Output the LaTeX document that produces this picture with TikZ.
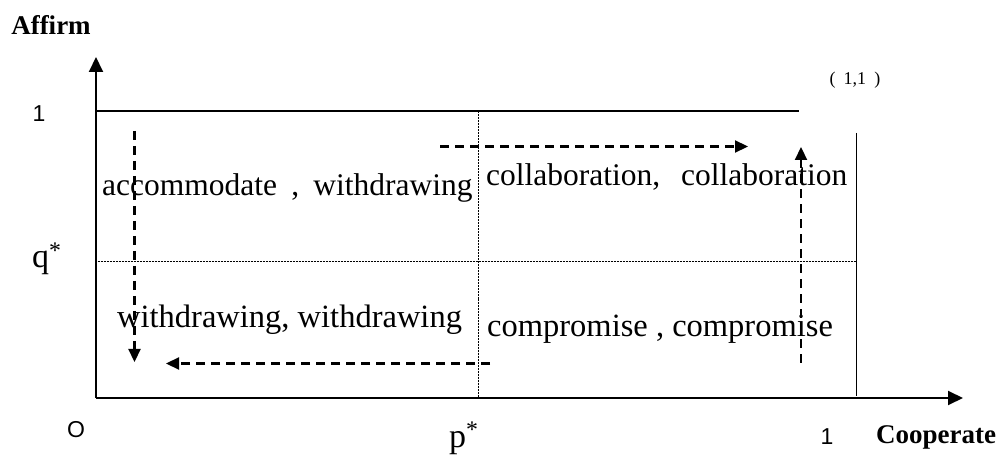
\documentclass[tikz,border=0pt]{standalone}
\usepackage{fontspec}
\setmainfont{Liberation Serif}
\newfontfamily\digitfont{Liberation Sans}
\usetikzlibrary{arrows.meta}

\tikzset{
  axisline/.style={line width=2pt, -{Triangle[length=15pt,width=14pt]}},
  frameline/.style={line width=1.3pt},
  gridline/.style={line width=1pt, dash pattern=on 1pt off 0.5pt},
  moveline/.style={line width=2.2pt, dash pattern=on 9pt off 6pt,
    -{Triangle[length=13pt,width=12pt]}},
  cell/.style={font=\fontsize{31.5}{36}\selectfont, inner sep=0pt, anchor=base west},
  lowcell/.style={font=\fontsize{32.5}{36}\selectfont, inner sep=0pt, anchor=base west},
  axistitle/.style={font=\fontsize{27}{30}\selectfont\bfseries, inner sep=0pt},
  ticklabel/.style={font=\digitfont\fontsize{23}{26}\selectfont, inner sep=0pt},
  starlabel/.style={font=\fontsize{34}{36}\selectfont, inner sep=0pt, anchor=base west}
}

\begin{document}
\begin{tikzpicture}[x=1pt, y=-1pt]
  \useasboundingbox (0,0) rectangle (997,457);

  % reference points of the strategy square
  \coordinate (O)  at (96,398);
  \coordinate (ytip) at (96,57);
  \coordinate (xtip) at (963,398);
  \coordinate (topL) at (96,111);
  \coordinate (topR) at (799,111);
  \coordinate (qL) at (96,261.5);
  \coordinate (qR) at (856.5,261.5);
  \coordinate (pT) at (478,111);
  \coordinate (pB) at (478,398);
  \coordinate (rT) at (856.5,133);
  \coordinate (rB) at (856.5,396);

  % axes
  \draw[axisline] (O) -- (ytip);
  \draw[axisline] (O) -- (xtip);

  % frame: p = 1 side, q = 1 side, thresholds p*, q*
  \draw[frameline] (topL) -- (topR);
  \draw[frameline] (rT) -- (rB);
  \draw[gridline] (qL) -- (qR);
  \draw[gridline] (pT) -- (pB);

  % dynamics arrows
  \coordinate (a1s) at (134.5,131);
  \coordinate (a1e) at (134.5,362);
  \coordinate (a2s) at (490,363.5);
  \coordinate (a2e) at (166,363.5);
  \coordinate (a3s) at (440,146.5);
  \coordinate (a3e) at (748,146.5);
  \coordinate (a4s) at (801,363);
  \coordinate (a4e) at (801,147);
  \draw[moveline] (a1s) -- (a1e);
  \draw[moveline] (a2s) -- (a2e);
  \draw[moveline] (a3s) -- (a3e);
  \draw[moveline] (a4s) -- (a4e);

  % quadrant outcomes
  \node[cell] (acc) at (102,196) {accommodate\hspace{0.2em} , \hspace{0.2em}withdrawing};
  \node[cell] (col) at (486,186) {collaboration,\hspace{0.41em} collaboration};
  \node[lowcell] (wd)  at (117,327) {withdrawing, withdrawing};
  \node[lowcell] (cmp) at (487,337) {compromise , compromise};

  % axis titles and ticks
  \node[axistitle] (affirm) at (51,25) {Affirm};
  \node[axistitle] (coop) at (936,437) {Cooperate};
  \node[ticklabel] (one1) at (39,114) {1};
  \node[ticklabel] (orig) at (76,430) {O};
  \node[ticklabel] (one2) at (827,437) {1};
  \node[starlabel] (qs) at (32,268) {q\textsuperscript{*}};
  \node[starlabel] (ps) at (449,447) {p\textsuperscript{*}};
  \node[font=\fontsize{18}{20}\selectfont, inner sep=0pt] (corner) at (855,80) {(\hspace{0.45em}1,1\hspace{0.45em})};
\end{tikzpicture}
\end{document}
